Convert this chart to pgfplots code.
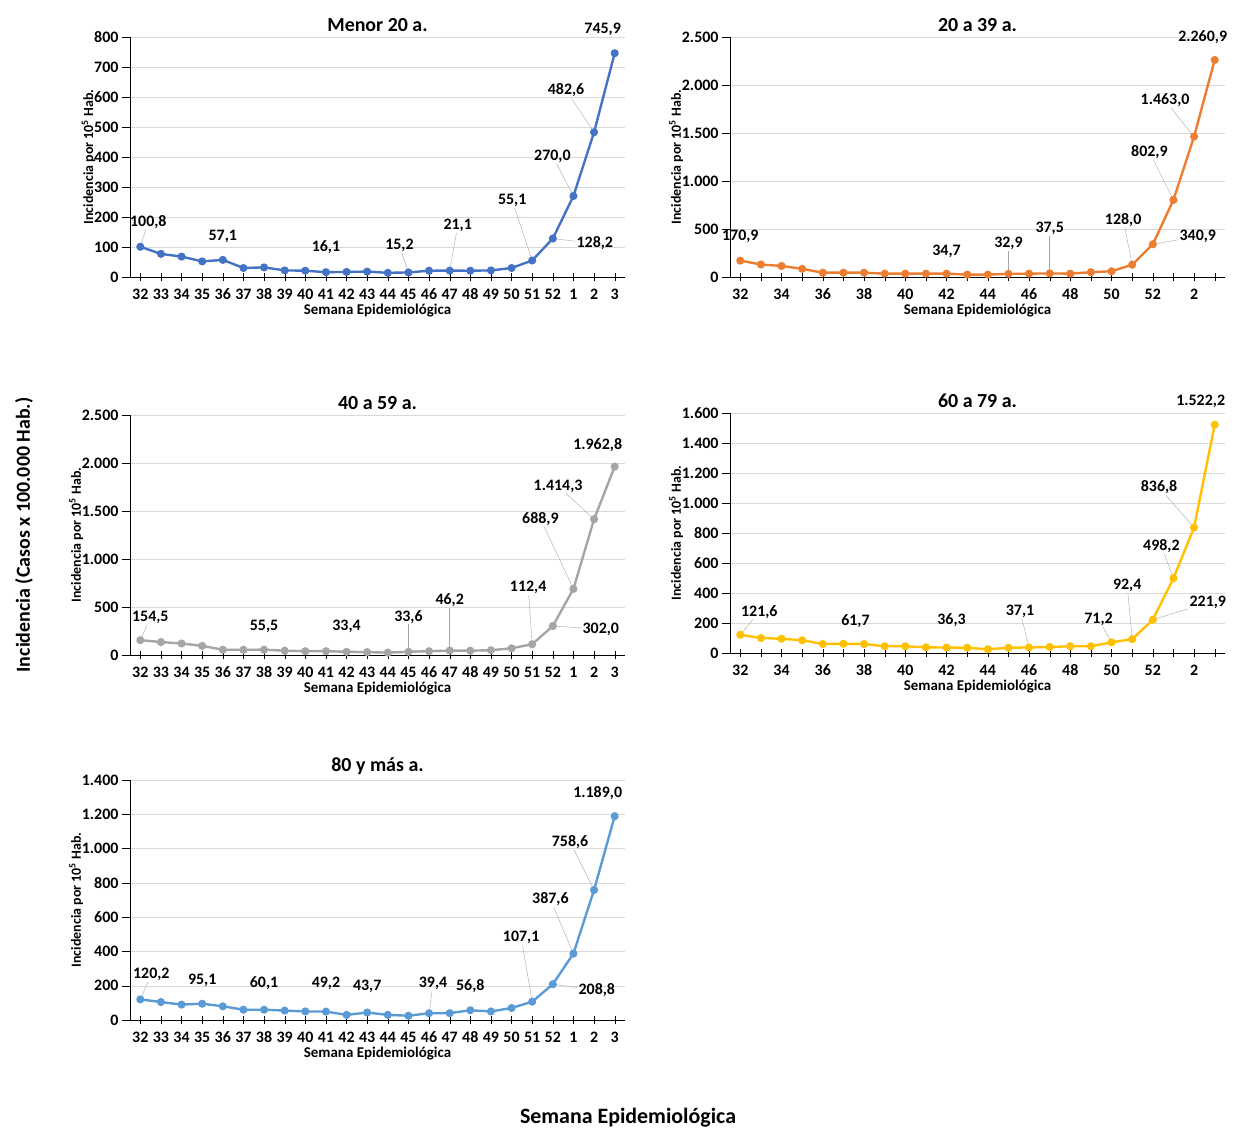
\documentclass[border=0pt]{standalone}
\usepackage{pgfplots}
\pgfplotsset{compat=1.18}
\usepackage{fontspec}
\setmainfont{Carlito}
\definecolor{c1}{HTML}{4472C4}
\definecolor{c2}{HTML}{ED7D31}
\definecolor{c3}{HTML}{A5A5A5}
\definecolor{c4}{HTML}{FFC000}
\definecolor{c5}{HTML}{5B9BD5}
\newcommand{\lbl}[5]{\node[font=\bfseries\fontsize{16}{17}\selectfont,inner sep=1pt] (L) at ([shift={(#3bp,#4bp)}]axis cs:#1,#2) {#5};}
\newcommand{\lbll}[5]{\node[font=\bfseries\fontsize{16}{17}\selectfont,inner sep=1pt] (L) at ([shift={(#3bp,#4bp)}]axis cs:#1,#2) {#5};\draw[gray!70,thin] (axis cs:#1,#2) -- (L);}
\pgfplotsset{
  panel/.style={scale only axis, width=495bp, height=240bp,
    xmin=-0.5, xmax=23.5, ymin=0,
    axis x line*=bottom, axis y line*=left, axis line style={-, black},
    ymajorgrids, grid style={gray!30},
    tick style={black}, major tick length=8bp, minor tick length=8bp,
    xtick align=center, ytick align=outside,
    xtick={0,...,23}, minor xtick={},
    tick label style={font=\bfseries\fontsize{16}{17}\selectfont},
    x tick label style={text height=11bp, text depth=0pt, anchor=north, yshift=-4bp},
    /pgf/number format/assume math mode=true,
    /pgf/number format/1000 sep={.},
    scaled y ticks=false,
    title style={font=\bfseries\fontsize{20}{22}\selectfont, yshift=-4bp},
    xlabel={Semana Epidemiológica},
    xlabel style={font=\bfseries\fontsize{15}{16}\selectfont, yshift=2bp},
    ylabel={Incidencia por 10\textsuperscript{5} Hab.},
    ylabel style={font=\bfseries\fontsize{14}{15}\selectfont, yshift=-8bp},
    clip=false},
  lefttk/.style={xticklabels={32,33,34,35,36,37,38,39,40,41,42,43,44,45,46,47,48,49,50,51,52,1,2,3},
    x tick label style={inner xsep=0pt}},
  righttk/.style={xtick={0,2,...,22}, minor xtick={1,3,...,23}, xticklabels={32,34,36,38,40,42,44,46,48,50,52,2}},
  ser/.style={line width=2.4pt, mark=*, mark size=2.8pt}
}
\begin{document}
\begin{tikzpicture}
\path (0bp,0bp) rectangle (1241bp,-1132bp);
% Panel 1
\begin{axis}[panel, lefttk, at={(130bp,-277bp)}, anchor=south west, ymax=800, ytick={0,100,...,800}, title={Menor 20 a.}]
\addplot[ser, c1] coordinates {(0,100.8)(1,77)(2,68)(3,52)(4,57.1)(5,30)(6,32)(7,22)(8,21)(9,16.1)(10,17)(11,18)(12,14)(13,15.2)(14,21)(15,21.1)(16,21)(17,22)(18,30)(19,55.1)(20,128.2)(21,270.0)(22,482.6)(23,745.9)};
\lbll{0}{100.8}{8}{25}{100,8}
\lbl{4}{57.1}{0}{23}{57,1}
\lbl{9}{16.1}{0}{25}{16,1}
\lbll{13}{15.2}{-9}{27}{15,2}
\lbll{15}{21.1}{8}{45}{21,1}
\lbll{19}{55.1}{-20}{60}{55,1}
\lbll{20}{128.2}{42}{-5}{128,2}
\lbll{21}{270.0}{-21}{40}{270,0}
\lbll{22}{482.6}{-28}{42}{482,6}
\lbl{23}{745.9}{-12}{24}{745,9}
\end{axis}
% Panel 2
\begin{axis}[panel, righttk, at={(730bp,-277bp)}, anchor=south west, ymax=2500, ytick={0,500,...,2500}, title={20 a 39 a.}]
\addplot[ser, c2] coordinates {(0,170.9)(1,130)(2,115)(3,85)(4,45)(5,45)(6,45)(7,35)(8,35)(9,35)(10,34.7)(11,25)(12,25)(13,32.9)(14,35)(15,37.5)(16,35)(17,50)(18,60)(19,128.0)(20,340.9)(21,802.9)(22,1463.0)(23,2260.9)};
\lbl{0}{170.9}{0}{24}{170,9}
\lbl{10}{34.7}{0}{22}{34,7}
\lbll{13}{32.9}{0}{30}{32,9}
\lbll{15}{37.5}{0}{45}{37,5}
\lbll{19}{128.0}{-9}{45}{128,0}
\lbll{20}{340.9}{45}{8}{340,9}
\lbll{21}{802.9}{-24}{48}{802,9}
\lbll{22}{1463.0}{-29}{36}{1.463,0}
\lbl{23}{2260.9}{-12}{23}{2.260,9}
\end{axis}
% Panel 3
\begin{axis}[panel, lefttk, at={(130bp,-655bp)}, anchor=south west, ymax=2500, ytick={0,500,...,2500}, title={40 a 59 a.}]
\addplot[ser, c3] coordinates {(0,154.5)(1,135)(2,120)(3,95)(4,55)(5,55)(6,55.5)(7,45)(8,40)(9,40)(10,33.4)(11,30)(12,25)(13,33.6)(14,40)(15,46.2)(16,45)(17,50)(18,70)(19,112.4)(20,302.0)(21,688.9)(22,1414.3)(23,1962.8)};
\lbll{0}{154.5}{10}{23}{154,5}
\lbl{6}{55.5}{0}{23}{55,5}
\lbl{10}{33.4}{0}{25}{33,4}
\lbll{13}{33.6}{0}{35}{33,6}
\lbll{15}{46.2}{0}{50}{46,2}
\lbll{19}{112.4}{-4}{57}{112,4}
\lbll{20}{302.0}{48}{-3}{302,0}
\lbll{21}{688.9}{-33}{70}{688,9}
\lbll{22}{1414.3}{-36}{33}{1.414,3}
\lbl{23}{1962.8}{-17}{22}{1.962,8}
\end{axis}
% Panel 4
\begin{axis}[panel, righttk, at={(730bp,-653bp)}, anchor=south west, ymax=1600, ytick={0,200,...,1600}, title={60 a 79 a.}]
\addplot[ser, c4] coordinates {(0,121.6)(1,100)(2,95)(3,85)(4,60)(5,61.7)(6,60)(7,45)(8,45)(9,38)(10,36.3)(11,35)(12,25)(13,35)(14,37.1)(15,40)(16,45)(17,45)(18,71.2)(19,92.4)(20,221.9)(21,498.2)(22,836.8)(23,1522.2)};
\lbll{0}{121.6}{19}{23}{121,6}
\lbl{5}{61.7}{12}{23}{61,7}
\lbl{10}{36.3}{5}{27}{36,3}
\lbll{14}{37.1}{-9}{36}{37,1}
\lbll{18}{71.2}{-13}{23}{71,2}
\lbll{19}{92.4}{-5}{54}{92,4}
\lbll{20}{221.9}{55}{17}{221,9}
\lbll{21}{498.2}{-12}{32}{498,2}
\lbll{22}{836.8}{-35}{40}{836,8}
\lbl{23}{1522.2}{-14}{23}{1.522,2}
\end{axis}
% Panel 5
\begin{axis}[panel, lefttk, at={(130bp,-1020bp)}, anchor=south west, ymax=1400, ytick={0,200,...,1400}, title={80 y más a.}]
\addplot[ser, c5] coordinates {(0,120.2)(1,105)(2,90)(3,95.1)(4,80)(5,60)(6,60.1)(7,55)(8,50)(9,49.2)(10,30)(11,43.7)(12,30)(13,25)(14,39.4)(15,40)(16,56.8)(17,50)(18,70)(19,107.1)(20,208.8)(21,387.6)(22,758.6)(23,1189.0)};
\lbll{0}{120.2}{11}{25}{120,2}
\lbl{3}{95.1}{0}{23}{95,1}
\lbl{6}{60.1}{0}{27}{60,1}
\lbl{9}{49.2}{0}{28}{49,2}
\lbl{11}{43.7}{0}{26}{43,7}
\lbll{14}{39.4}{4}{30}{39,4}
\lbl{16}{56.8}{0}{24}{56,8}
\lbll{19}{107.1}{-11}{64}{107,1}
\lbll{20}{208.8}{44}{-6}{208,8}
\lbll{21}{387.6}{-23}{54}{387,6}
\lbll{22}{758.6}{-24}{48}{758,6}
\lbl{23}{1189.0}{-17}{23}{1.189,0}
\end{axis}
\node[rotate=90, font=\bfseries\fontsize{20}{22}\selectfont] at (24bp,-535bp) {Incidencia (Casos x 100.000 Hab.)};
\node[font=\bfseries\fontsize{22}{24}\selectfont] at (628bp,-1118bp) {Semana Epidemiológica};
\end{tikzpicture}
\end{document}
